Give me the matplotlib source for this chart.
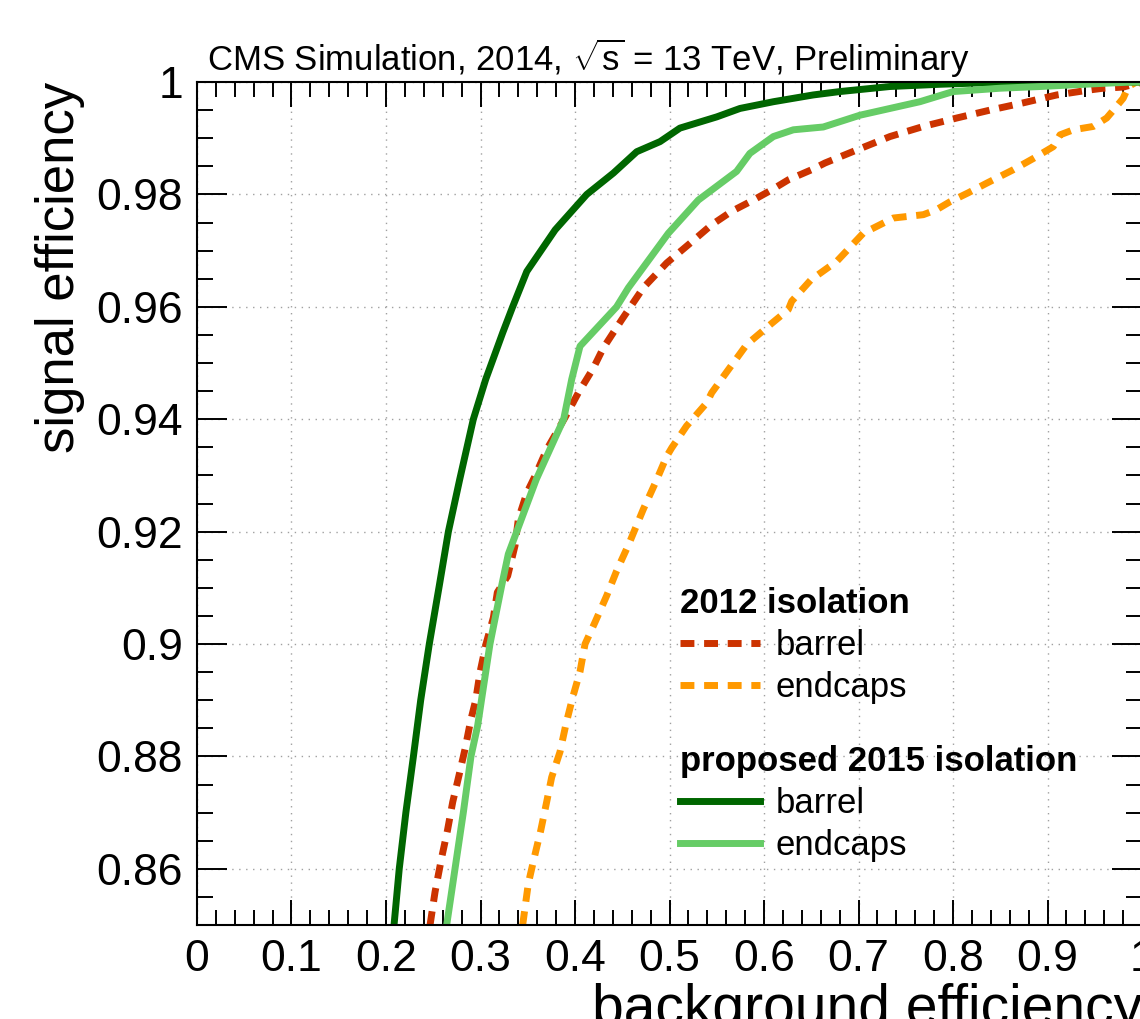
import matplotlib
matplotlib.use("Agg")
import matplotlib.pyplot as plt
from matplotlib.ticker import MultipleLocator, FixedLocator, FuncFormatter

plt.rcParams['font.family'] = ['Liberation Sans', 'DejaVu Sans']
plt.rcParams['mathtext.fontset'] = 'custom'
plt.rcParams['mathtext.rm'] = 'Liberation Sans'
plt.rcParams['mathtext.it'] = 'Liberation Sans'

# ROC curves: background efficiency (x) vs signal efficiency (y)
bkg_2015_barrel = [0.2085, 0.214, 0.221, 0.229, 0.2367, 0.2458, 0.2564, 0.266, 0.278, 0.2924,
                   0.3055, 0.3235, 0.334, 0.349, 0.379, 0.4124, 0.4406, 0.4653, 0.49, 0.511,
                   0.55, 0.5746, 0.61, 0.652, 0.68, 0.733, 0.786, 0.857, 1.0]
sig_2015_barrel = [0.85, 0.86, 0.87, 0.88, 0.89, 0.9, 0.9104, 0.92, 0.9293, 0.94,
                   0.9471, 0.9554, 0.96, 0.9663, 0.9737, 0.98, 0.9838, 0.9876, 0.9894, 0.9918,
                   0.9938, 0.9953, 0.9965, 0.9977, 0.9983, 0.9992, 0.9996, 1.0, 1.0]

bkg_2015_endcaps = [0.2642, 0.273, 0.2818, 0.2899, 0.297, 0.301, 0.31, 0.3224, 0.3294, 0.3383,
                    0.359, 0.3806, 0.388, 0.3965, 0.4053, 0.444, 0.4565, 0.4988, 0.5305, 0.571,
                    0.585, 0.6099, 0.631, 0.6627, 0.7016, 0.765, 0.8, 0.85, 0.892, 0.927,
                    0.963, 0.99, 1.0]
sig_2015_endcaps = [0.85, 0.86, 0.87, 0.88, 0.8855, 0.89, 0.9, 0.9104, 0.916, 0.92,
                    0.9293, 0.9373, 0.94, 0.9471, 0.953, 0.96, 0.9634, 0.9731, 0.979, 0.9841,
                    0.9873, 0.9903, 0.9915, 0.992, 0.9941, 0.9965, 0.9983, 0.9989, 0.9992, 0.9995,
                    0.9998, 1.0, 1.0]

bkg_2012_barrel = [0.2466, 0.2519, 0.259, 0.265, 0.2706, 0.2772, 0.2836, 0.2896, 0.2949, 0.2995,
                   0.3058, 0.3136, 0.3178, 0.3287, 0.3365, 0.34, 0.349, 0.3577, 0.37, 0.3894,
                   0.4035, 0.4194, 0.43, 0.4494, 0.4723, 0.497, 0.5217, 0.5446, 0.5658, 0.5887,
                   0.608, 0.6257, 0.6504, 0.6646, 0.698, 0.7333, 0.7686, 0.804, 0.839, 0.8744,
                   0.9097, 0.945, 0.959, 0.98, 1.0]
sig_2012_barrel = [0.85, 0.8559, 0.8621, 0.8668, 0.8719, 0.8766, 0.8813, 0.8864, 0.89, 0.895,
                   0.9, 0.9047, 0.9092, 0.9121, 0.9175, 0.9222, 0.9269, 0.9299, 0.9346, 0.9403,
                   0.9447, 0.9491, 0.9527, 0.9577, 0.9634, 0.9678, 0.9713, 0.9746, 0.977, 0.979,
                   0.9808, 0.9826, 0.9844, 0.9856, 0.9879, 0.9903, 0.9921, 0.9936, 0.995, 0.9963,
                   0.9977, 0.9986, 0.9989, 0.9991, 1.0]

bkg_2012_endcaps = [0.3446, 0.3506, 0.357, 0.3637, 0.37, 0.3753, 0.3841, 0.3905, 0.3975, 0.4053,
                    0.4106, 0.4212, 0.4335, 0.444, 0.4575, 0.4624, 0.4723, 0.4856, 0.497, 0.5023,
                    0.518, 0.5393, 0.5446, 0.5622, 0.5817, 0.6063, 0.6257, 0.6293, 0.6496, 0.677,
                    0.705, 0.7368, 0.7686, 0.7827, 0.7968, 0.8162, 0.8356, 0.8638, 0.885, 0.9061,
                    0.9132, 0.9273, 0.9485, 0.9626, 0.9697, 0.98, 0.9856, 0.994, 1.0]
sig_2012_endcaps = [0.85, 0.8574, 0.8621, 0.8668, 0.8719, 0.8763, 0.8808, 0.8858, 0.8905, 0.8951,
                    0.9, 0.9039, 0.9086, 0.913, 0.918, 0.92, 0.924, 0.9289, 0.9334, 0.9349,
                    0.9388, 0.9429, 0.9447, 0.9488, 0.9533, 0.9568, 0.9595, 0.961, 0.9648, 0.9681,
                    0.9731, 0.9758, 0.9764, 0.9773, 0.9787, 0.9803, 0.982, 0.9844, 0.9864, 0.9885,
                    0.9906, 0.9915, 0.9921, 0.9936, 0.995, 0.9971, 0.9992, 1.0, 1.0]

x_ticks = [0, 0.1, 0.2, 0.3, 0.4, 0.5, 0.6, 0.7, 0.8, 0.9, 1.0]
y_ticks = [0.86, 0.88, 0.9, 0.92, 0.94, 0.96, 0.98, 1.0]

C_RED = '#cc3300'
C_ORANGE = '#ff9900'
C_DKGREEN = '#006600'
C_LTGREEN = '#66cc66'

fig = plt.figure(figsize=(11.4, 10.19), dpi=100)
ax = fig.add_axes([0.1728, 0.0922, 0.8290, 0.8273])
ax.set_xlim(0, 1)
ax.set_ylim(0.85, 1.0)

lw = 5
l_rb, = ax.plot(bkg_2012_barrel, sig_2012_barrel, color=C_RED, lw=lw, dashes=(2.0, 1.4),
                dash_capstyle='butt', label='barrel')
l_re, = ax.plot(bkg_2012_endcaps, sig_2012_endcaps, color=C_ORANGE, lw=lw, dashes=(2.0, 1.4),
                dash_capstyle='butt', label='endcaps')
l_gb, = ax.plot(bkg_2015_barrel, sig_2015_barrel, color=C_DKGREEN, lw=lw, label='barrel')
l_ge, = ax.plot(bkg_2015_endcaps, sig_2015_endcaps, color=C_LTGREEN, lw=lw, label='endcaps')

# ROOT-like frame, ticks and grid
ax.xaxis.set_major_locator(FixedLocator(x_ticks))
ax.xaxis.set_minor_locator(MultipleLocator(0.02))
ax.yaxis.set_major_locator(FixedLocator(y_ticks))
ax.yaxis.set_minor_locator(MultipleLocator(0.005))
ax.xaxis.set_major_formatter(FuncFormatter(lambda v, p: '%g' % round(v, 3)))
ax.yaxis.set_major_formatter(FuncFormatter(lambda v, p: '%g' % round(v, 3)))
ax.tick_params(axis='both', which='both', direction='in', top=True, right=True,
               width=1.4, labelsize=32, colors='black')
ax.tick_params(axis='x', which='major', length=18, pad=10)
ax.tick_params(axis='x', which='minor', length=10.5)
ax.tick_params(axis='y', which='major', length=21.5, pad=10)
ax.tick_params(axis='y', which='minor', length=11.5)
for s in ax.spines.values():
    s.set_linewidth(1.5)
    s.set_zorder(5)
ax.grid(True, which='major', color='#a0a0a0', lw=1.0, linestyle=(0, (1, 4)))
ax.set_axisbelow(True)

ax.set_xlabel('background efficiency', fontsize=41, loc='right', labelpad=2)
ax.set_ylabel('signal efficiency', fontsize=38, loc='top', labelpad=8)

fig.text(207 / 1140, 1 - 58 / 1019, r'CMS Simulation, 2014, $\sqrt{\mathrm{s}}$ = 13 TeV, Preliminary',
         fontsize=25, ha='left', va='center')

# two-part legend
leg_kw = dict(loc='upper left', frameon=False, fontsize=25,
              title_fontproperties={'weight': 'bold', 'size': 25}, alignment='left',
              borderpad=0, borderaxespad=0, handlelength=2.3, handletextpad=0.46,
              labelspacing=0.26)
leg1 = ax.legend(handles=[l_rb, l_re], title='2012 isolation',
                 bbox_to_anchor=(0.511, 0.401), **leg_kw)
ax.add_artist(leg1)
ax.legend(handles=[l_gb, l_ge], title='proposed 2015 isolation',
          bbox_to_anchor=(0.511, 0.214), **leg_kw)

fig.savefig('out.png', dpi=100, facecolor='white')
